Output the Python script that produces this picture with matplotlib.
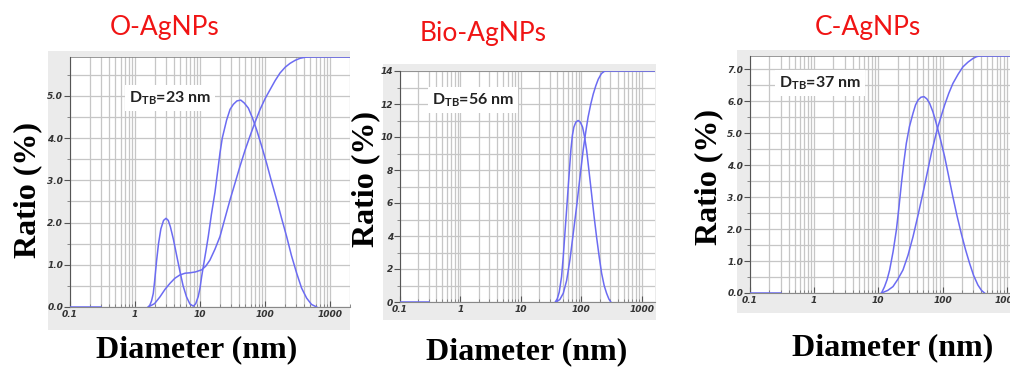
import matplotlib
matplotlib.use("Agg")
import matplotlib.pyplot as plt
from matplotlib.patches import Rectangle
from matplotlib.ticker import FixedLocator, NullFormatter, LogLocator

plt.rcParams['mathtext.fontset'] = 'custom'
plt.rcParams['mathtext.bf'] = 'Lato:bold'
plt.rcParams['mathtext.rm'] = 'Lato'

W, H = 1010, 371

titles = ["O-AgNPs", "Bio-AgNPs", "C-AgNPs"]
dtb_labels = ["23", "56", "37"]

# Panel 1 (O-AgNPs)
o_base_d = [0.1, 0.3]
o_base_y = [0.0, 0.0]
o_dist_d = [1.6, 1.7, 1.8, 1.91, 2.0, 2.15, 2.3, 2.5, 2.75, 3.0, 3.25, 3.5, 3.9, 4.4, 4.9, 5.5,
            6.2, 7.0, 7.9, 8.6, 9.4, 10.0, 10.6, 11.5, 12.5, 13.4, 15, 17, 19, 20.3, 22, 25.7,
            29, 32.6, 37, 42.3, 48, 55.4, 64, 74.5, 88, 106, 126, 151, 180, 215, 255, 307,
            365, 437, 520, 624]
o_dist_y = [0.0, 0.05, 0.15, 0.32, 0.6, 1.1, 1.5, 1.85, 2.05, 2.10, 2.05, 1.9, 1.6, 1.2, 0.85, 0.5,
            0.24, 0.07, 0.02, 0.08, 0.25, 0.45, 0.72, 1.05, 1.38, 1.67, 2.2, 2.72, 3.3, 3.65, 4.0, 4.43,
            4.68, 4.8, 4.88, 4.90, 4.83, 4.71, 4.48, 4.19, 3.83, 3.40, 2.97, 2.54, 2.1, 1.67, 1.22, 0.80,
            0.45, 0.21, 0.06, 0.0]
o_cum_d = [1.6, 2.0, 2.42, 2.9, 3.45, 4.1, 4.92, 5.9, 7.0, 8.5, 10.6, 12.3, 14.2, 17, 20.3, 24,
           29, 34.5, 41, 49, 58.5, 70, 83.5, 100, 119, 143, 170, 205, 243, 290, 347, 420, 520, 2030]
o_cum_y = [0.0, 0.08, 0.24, 0.42, 0.56, 0.68, 0.76, 0.80, 0.81, 0.83, 0.88, 0.97, 1.11, 1.37, 1.67, 2.08,
           2.54, 2.93, 3.32, 3.70, 4.04, 4.37, 4.67, 4.93, 5.14, 5.36, 5.54, 5.68, 5.77, 5.84, 5.89, 5.915, 5.92, 5.92]

# Panel 2 (Bio-AgNPs)
b_base_d = [0.1, 0.3]
b_base_y = [0.0, 0.0]
b_dist_d = [37, 40, 43, 47, 50, 53.4, 57, 60.6, 64, 67, 71, 75.1, 81, 88.5, 96, 104.6, 113, 122,
            134, 147, 162, 178, 196, 216, 238, 261, 285, 307]
b_dist_y = [0.0, 0.2, 0.6, 1.53, 2.7, 4.16, 5.6, 6.99, 8.2, 9.21, 10.1, 10.6, 10.9, 11.0, 10.9, 10.6, 10.0, 9.21,
            7.9, 6.59, 5.2, 3.96, 2.8, 1.74, 1.0, 0.53, 0.18, 0.0]
b_cum_d = [38, 44, 50.2, 57, 64.6, 73, 83.3, 95, 107, 118, 129, 143, 157, 173, 190, 215, 244, 1650]
b_cum_y = [0.0, 0.15, 0.53, 1.3, 2.55, 4.1, 5.78, 7.6, 9.21, 10.3, 11.2, 12.0, 12.6, 13.1, 13.5, 13.85, 14.0, 14.0]

# Panel 3 (C-AgNPs)
c_base_d = [0.1, 0.3]
c_base_y = [0.0, 0.0]
c_dist_d = [11.2, 12.5, 13.7, 15.0, 17, 19.1, 21, 22.9, 25, 27.3, 30.5, 34.7, 38, 41.5, 46, 51.4,
            57, 63.0, 71, 80.0, 93, 108, 125, 145, 168, 196, 228, 264, 305, 356, 405, 452]
c_dist_y = [0.0, 0.2, 0.42, 0.72, 1.3, 1.97, 2.7, 3.43, 4.1, 4.68, 5.2, 5.62, 5.88, 6.03, 6.12, 6.14,
            6.07, 5.93, 5.66, 5.30, 4.8, 4.26, 3.64, 3.01, 2.42, 1.86, 1.36, 0.93, 0.55, 0.25, 0.08, 0.0]
c_cum_d = [11.2, 14, 16.9, 20, 24.2, 29, 34.7, 41.5, 49.5, 58, 67.0, 76, 84.9, 96, 108, 125, 145,
           175, 208, 250, 297, 340, 378, 2000]
c_cum_y = [0.0, 0.08, 0.20, 0.42, 0.72, 1.18, 1.76, 2.43, 3.12, 3.77, 4.37, 4.82, 5.20, 5.55, 5.88, 6.24, 6.55,
           6.84, 7.07, 7.22, 7.33, 7.39, 7.41, 7.41]

panels = [
    dict(base=(o_base_d, o_base_y), dist=(o_dist_d, o_dist_y), cum=(o_cum_d, o_cum_y),
         px=(70, 350), py=(57, 307), xlim=(0.1, 2030), ylim=(0, 5.92),
         major=[0, 1, 2, 3, 4, 5], minor=[0.5, 1.5, 2.5, 3.5, 4.5, 5.5], fmt="{:.1f}",
         gray=(48, 51, 350, 330), title_xy=(165, 28), dtb_xy=(129, 98),
         ylab_xy=(28, 190), xlab_xy=(197, 350)),
    dict(base=(b_base_d, b_base_y), dist=(b_dist_d, b_dist_y), cum=(b_cum_d, b_cum_y),
         px=(400, 655), py=(71, 302), xlim=(0.1, 1650), ylim=(0, 14),
         major=[0, 2, 4, 6, 8, 10, 12, 14], minor=[1, 3, 5, 7, 9, 11, 13], fmt="{:.0f}",
         gray=(383, 64, 656, 320), title_xy=(483, 33), dtb_xy=(432, 100),
         ylab_xy=(366, 179), xlab_xy=(527, 352)),
    dict(base=(c_base_d, c_base_y), dist=(c_dist_d, c_dist_y), cum=(c_cum_d, c_cum_y),
         px=(750, 1026), py=(56, 293), xlim=(0.1, 2000), ylim=(0, 7.41),
         major=[0, 1, 2, 3, 4, 5, 6, 7], minor=[0.5, 1.5, 2.5, 3.5, 4.5, 5.5, 6.5], fmt="{:.1f}",
         gray=(737, 50, 1012, 313), title_xy=(868, 28), dtb_xy=(779, 83),
         ylab_xy=(709, 177), xlab_xy=(893, 348)),
]

fig = plt.figure(figsize=(W / 100, H / 100), dpi=100)
fig.patch.set_facecolor('white')

line_color = '#6b6bf2'
grid_color = '#c6c6c6'
tick_color = '#333333'

for p in panels:
    gx0, gy0, gx1, gy1 = p['gray']
    fig.add_artist(Rectangle((gx0 / W, 1 - gy1 / H), (gx1 - gx0) / W, (gy1 - gy0) / H,
                             transform=fig.transFigure, facecolor='#ebebeb', edgecolor='none', zorder=0))
    x0, x1 = p['px']
    ytop, ybot = p['py']
    ax = fig.add_axes([x0 / W, 1 - ybot / H, (x1 - x0) / W, (ybot - ytop) / H])
    ax.set_facecolor('white')
    ax.set_xscale('log')
    ax.set_xlim(*p['xlim'])
    ax.set_ylim(*p['ylim'])

    ax.xaxis.set_major_locator(FixedLocator([0.1, 1, 10, 100, 1000]))
    ax.xaxis.set_minor_locator(LogLocator(base=10, subs=range(2, 10), numticks=20))
    ax.xaxis.set_minor_formatter(NullFormatter())
    ax.set_xticklabels(["0.1", "1", "10", "100", "1000"])
    ax.yaxis.set_major_locator(FixedLocator(p['major']))
    ax.yaxis.set_minor_locator(FixedLocator(p['minor']))
    ax.set_yticklabels([p['fmt'].format(v) for v in p['major']])

    ax.grid(True, which='both', color=grid_color, linewidth=0.9)
    ax.set_axisbelow(True)
    for lab in ax.get_xticklabels() + ax.get_yticklabels():
        lab.set_fontstyle('italic')
        lab.set_fontweight('bold')
        lab.set_fontsize(6.5)
        lab.set_color(tick_color)
    ax.tick_params(axis='y', which='major', direction='out', length=4, width=0.8, color='#555555', pad=1)
    ax.tick_params(axis='y', which='minor', direction='out', length=2, width=0.6, color='#777777')
    ax.tick_params(axis='x', which='major', direction='in', length=4, width=0.8, color='#555555', pad=2)
    ax.tick_params(axis='x', which='minor', direction='in', length=2, width=0.6, color='#777777')
    for side in ['top', 'right']:
        ax.spines[side].set_visible(False)
    ax.spines['left'].set_color('#555555')
    ax.spines['bottom'].set_color('#888888')
    ax.spines['left'].set_linewidth(0.8)
    ax.spines['bottom'].set_linewidth(0.8)
    ax.axhline(p['ylim'][1], color='#888888', linewidth=1.2, zorder=1)

    for key in ['base', 'dist', 'cum']:
        d, y = p[key]
        ax.plot(d, y, color=line_color, linewidth=1.1, zorder=3, solid_joinstyle='round')

for p, t, v in zip(panels, titles, dtb_labels):
    fig.text(p['title_xy'][0] / W, 1 - p['title_xy'][1] / H, t, color='#f01414',
             fontsize=19, family='Lato', ha='center', va='center')
    fig.text(p['dtb_xy'][0] / W, 1 - p['dtb_xy'][1] / H,
             r'$\mathbf{D}_{\mathbf{TB}}$=' + v + ' nm', fontsize=11.5, family='Lato', fontweight='bold',
             color='#222222', ha='left', va='center',
             bbox=dict(facecolor='white', edgecolor='none', pad=3))
    fig.text(p['ylab_xy'][0] / W, 1 - p['ylab_xy'][1] / H, 'Ratio (%)', rotation=90,
             fontsize=23, family='Liberation Serif', fontweight='bold', ha='center', va='center')
    fig.text(p['xlab_xy'][0] / W, 1 - p['xlab_xy'][1] / H, 'Diameter (nm)',
             fontsize=23, family='Liberation Serif', fontweight='bold', ha='center', va='center')

fig.savefig('out.png', dpi=100)
